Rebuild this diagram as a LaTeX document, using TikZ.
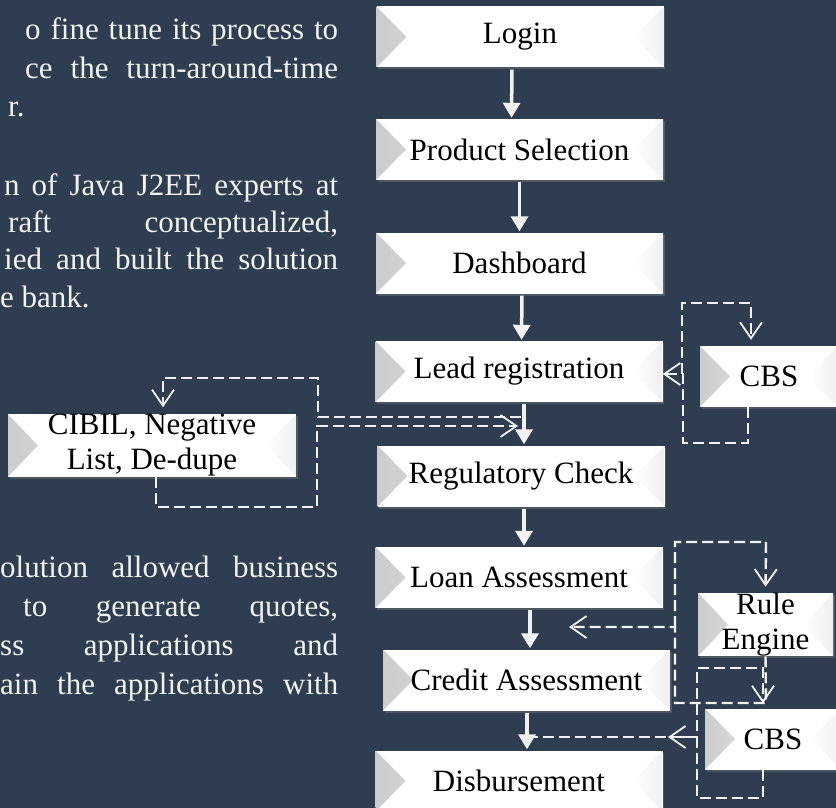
\documentclass[tikz,border=0pt]{standalone}
\usepackage{fontspec}
\setmainfont{Liberation Serif}
\usetikzlibrary{arrows.meta,shadows}
\definecolor{slate}{RGB}{46,62,80}
\definecolor{paper}{RGB}{242,242,242}
\begin{document}
\begin{tikzpicture}[x=1pt,y=-1pt,
  whitebox/.style={rectangle,fill=white,text=black,minimum width=287pt,minimum height=61pt,inner sep=0pt,align=center,
    font=\fontsize{31}{35}\selectfont,
    drop shadow={opacity=0.4,shadow xshift=1.5pt,shadow yshift=-2pt},
    path picture={
      \shade[left color=black!20,right color=white] (path picture bounding box.north west) -- ([xshift=30pt]path picture bounding box.west) -- (path picture bounding box.south west) -- cycle;
      \shade[left color=white,right color=black!6] (path picture bounding box.north east) -- ([xshift=-30pt]path picture bounding box.east) -- (path picture bounding box.south east) -- cycle;}},
  flowarrow/.style={draw=paper,line width=3.5pt,-{Triangle[length=15pt,width=17pt]},shorten <=2pt,shorten >=1pt},
  dasharrow/.style={draw=paper,line width=2.4pt,dash pattern=on 11pt off 5pt,-{Straight Barb[length=16pt,width=22pt,line width=1.8pt]}},
  bodytext/.style={anchor=base west,inner sep=0pt,text=paper,font=\fontsize{31}{37}\selectfont}]
\useasboundingbox (0,0) rectangle (836,808);
\clip (0,0) rectangle (836,808);
\fill[slate] (0,0) rectangle (836,808);

% text beside the flow
\node[bodytext] (t1) at (25,40) {\makebox[313pt][s]{o fine tune its process to}};
\node[bodytext] (t2) at (25,79) {\makebox[313pt][s]{ce the turn-around-time}};
\node[bodytext] (t3) at (8,117) {r.};
\node[bodytext] (t4) at (4,195) {\makebox[334pt][s]{n of Java J2EE experts at}};
\node[bodytext] (t5) at (8,232) {\makebox[330pt][s]{raft conceptualized,}};
\node[bodytext] (t6) at (4,269) {\makebox[334pt][s]{ied and built the solution}};
\node[bodytext] (t7) at (0,307) {e bank.};
\node[bodytext] (t8) at (0,577) {\makebox[338pt][s]{olution allowed business}};
\node[bodytext] (t9) at (23,616) {\makebox[315pt][s]{to generate quotes,}};
\node[bodytext] (t10) at (0,655) {\makebox[338pt][s]{ss applications and}};
\node[bodytext] (t11) at (0,694) {\makebox[338pt][s]{ain the applications with}};

% boxes
\node[whitebox] (login) at (520,37) {Login};
\node[whitebox] (product) at (519.5,149.5) {Product Selection};
\node[whitebox] (dashboard) at (519.5,263) {Dashboard};
\node[whitebox] (lead) at (519,371.5) {Lead registration};
\node[whitebox] (regcheck) at (521,476) {Regulatory Check};
\node[whitebox] (loan) at (519,577.5) {Loan Assessment};
\node[whitebox] (credit) at (526.5,680) {Credit Assessment};
\node[whitebox] (disburse) at (519,781) {Disbursement};
\node[whitebox,minimum width=288pt] (cibil) at (152,445.5) {CIBIL, Negative\\List, De-dupe};
\node[whitebox,minimum width=138pt] (cbsa) at (769,376.5) {CBS};
\node[whitebox,minimum width=135pt] (rule) at (765.5,624.5) {Rule\\Engine};
\node[whitebox,minimum width=136pt] (cbsb) at (773,739) {CBS};

% main flow
\draw[flowarrow] ([xshift=-8pt]login.south) -- ([xshift=-8pt]product.north);
\draw[flowarrow] (product.south) -- (dashboard.north);
\draw[flowarrow] ([xshift=2.5pt]dashboard.south) -- ([xshift=2.5pt]lead.north);
\draw[flowarrow] ([xshift=5pt]lead.south) -- ([xshift=3pt]regcheck.north);
\draw[flowarrow] ([xshift=3pt]regcheck.south) -- ([xshift=5pt]loan.north);
\draw[flowarrow] ([xshift=11pt]loan.south) -- ([xshift=3.5pt]credit.north);
\draw[flowarrow] ([xshift=0.5pt]credit.south) -- ([xshift=8pt]disburse.north);

% side checks
\coordinate (tocibil) at (521,417);
\coordinate (fromcibil) at (524,426);
\draw[dasharrow,shorten >=7pt] (tocibil) -- (318,417) |- (163,378) -- ([xshift=11pt]cibil.north);
\draw[dasharrow,shorten >=6pt] ([xshift=4pt]cibil.south) -- (156,507) -| (317,426) -- (fromcibil);

\coordinate (tocbsa) at (682,374);
\draw[dasharrow,shorten >=6pt] (tocbsa) |- (751,303) -- ([xshift=-18pt]cbsa.north);
\draw[dasharrow] ([xshift=-21pt]cbsa.south) -- (748,443) -| (683,374) -- ([yshift=-2.5pt]lead.east);

\coordinate (torule) at (675,627);
\coordinate (ruleback) at (569,627);
\draw[dasharrow,shorten >=6pt] (torule) |- (766,542) -- (rule.north);
\draw[dasharrow] (rule.south) -- (766,703) -| (675,627) -- (ruleback);

\coordinate (tocbsb) at (527,737);
\coordinate (cbsbback) at (668,737);
\draw[dasharrow,shorten >=5pt] (tocbsb) -- (697,737) |- (763,668) -- ([xshift=-10pt]cbsb.north);
\draw[dasharrow] ([xshift=-10pt]cbsb.south) -- (763,798) -| (697,737) -- (cbsbback);
\end{tikzpicture}
\end{document}
